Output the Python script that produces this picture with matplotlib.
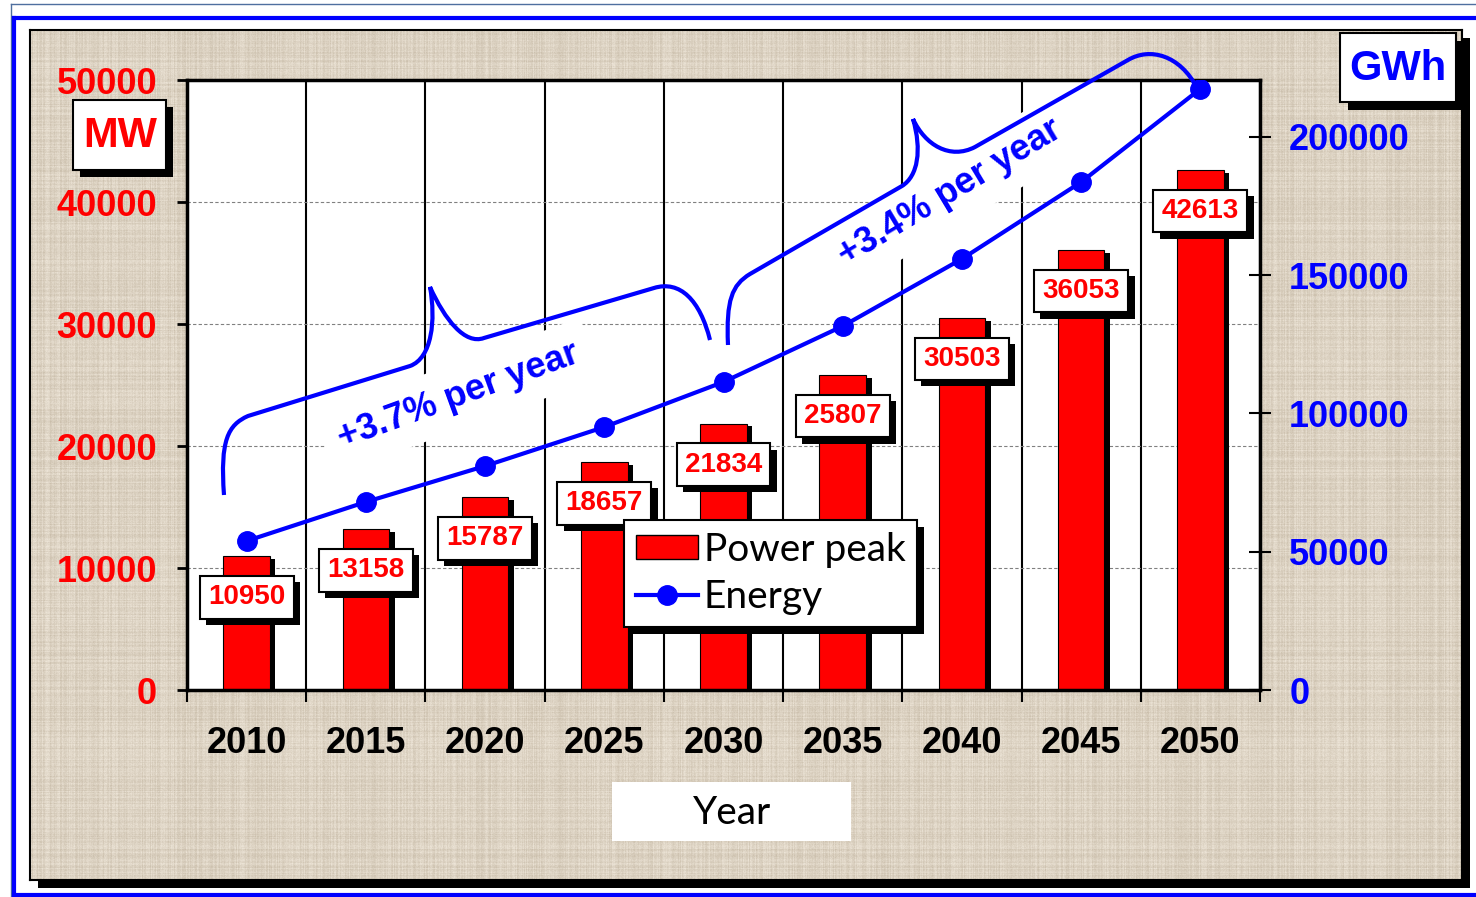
import numpy as np
import matplotlib
matplotlib.use("Agg")
import matplotlib.pyplot as plt
from matplotlib import patheffects as pe
from matplotlib.patches import Rectangle, PathPatch
from matplotlib.path import Path
from matplotlib.lines import Line2D
from matplotlib.transforms import Affine2D

# chart data
years = ["2010", "2015", "2020", "2025", "2030", "2035", "2040", "2045", "2050"]
power_peak_mw = [10950, 13158, 15787, 18657, 21834, 25807, 30503, 36053, 42613]
energy_gwh = [53900, 68000, 81000, 95100, 111400, 131600, 155900, 183700, 217400]
mw_ticks = [0, 10000, 20000, 30000, 40000, 50000]
gwh_ticks = [0, 50000, 100000, 150000, 200000]
growth_labels = ["+3.7% per year", "+3.4% per year"]

RED = "#FF0000"
BLUE = "#0000FF"
SANS = ["Liberation Sans", "DejaVu Sans"]
SOFT = ["Lato", "DejaVu Sans"]
plt.rcParams["font.family"] = SANS

W, H = 1476, 897
fig = plt.figure(figsize=(W / 100, H / 100), dpi=100)
fig.patch.set_facecolor("white")

# pixel coordinates (origin top-left) -> figure
px = Affine2D().scale(1 / W, -1 / H).translate(0, 1) + fig.transFigure


def shadow(dx, dy):
    return [pe.SimplePatchShadow(offset=(dx, dy), shadow_rgbFace="black", alpha=1.0), pe.Normal()]


# outer frame lines
for xs, ys, c, lw in [([11, 1476], [4, 4], "#4F6F9F", 1.0), ([11, 11], [4, 897], "#4F6F9F", 1.0),
                      ([14, 1476], [18, 18], BLUE, 3.0), ([14, 14], [18, 895], BLUE, 3.0),
                      ([14, 1476], [895, 895], BLUE, 3.0)]:
    fig.add_artist(Line2D(xs, ys, color=c, lw=lw, transform=px, zorder=-8))

# textured panel with shadow
fig.add_artist(Rectangle((38, 38), 1432, 850, transform=px, fc="black", ec="none", zorder=-7))
bg = fig.add_axes([30 / W, 1 - 880 / H, 1432 / W, 850 / H], zorder=-5)
cols = np.arange(1432, dtype=float)
rows = np.arange(850, dtype=float)
hash01 = lambda a: (np.sin(a * 12.9898 + 4.1414) * 43758.5453) % 1.0
col_n = hash01(cols)
row_n = hash01(rows + 977.0)
yy, xx = np.meshgrid(rows, cols, indexing="ij")
cell_n = hash01(xx * 0.731 + yy * 1.379)
v = 0.4 * col_n[None, :] + 0.35 * row_n[:, None] + 0.25 * cell_n
dark = np.array([202, 190, 171]) / 255
light = np.array([238, 230, 217]) / 255
tex = dark + (light - dark) * v[..., None]
bg.imshow(tex, aspect="auto", interpolation="nearest")
bg.set_xticks([])
bg.set_yticks([])
for s in bg.spines.values():
    s.set_linewidth(1.5)
    s.set_color("black")

# main axes
ax = fig.add_axes([187 / W, 1 - 690 / H, 1073 / W, 610 / H])
ax.set_facecolor("white")
ax.set_axisbelow(True)
x = np.arange(len(years))

bars = ax.bar(x, power_peak_mw, width=0.39, color=RED, edgecolor="black", linewidth=0.8, zorder=2)
for b in bars:
    b.set_path_effects(shadow(4, -2.0))

for xi, v in zip(x, power_peak_mw):
    t = ax.annotate(f"{v}", xy=(xi, v), xytext=(0, -29.5), textcoords="offset points",
                    ha="center", va="center", color=RED, fontsize=20, fontweight="bold",
                    bbox=dict(boxstyle="square,pad=0.3", fc="white", ec="black", lw=1.5), zorder=3)
    t.get_bbox_patch().set_path_effects(shadow(4.5, -4.5))

ax.set_xlim(-0.5, len(years) - 0.5)
ax.set_ylim(0, 50000)
ax.set_xticks(np.arange(-0.5, len(years), 1.0))
ax.set_xticklabels([])
ax.set_xticks(x, minor=True)
ax.set_xticklabels(years, minor=True)
ax.tick_params(axis="x", which="major", direction="out", length=8.5, width=1.5, color="black")
ax.tick_params(axis="x", which="minor", length=0, pad=26, labelsize=26)
ax.grid(axis="x", which="major", color="black", lw=1.5, ls="-")
ax.set_yticks(mw_ticks)
ax.grid(axis="y", color="#808080", lw=0.8, ls=(0, (3, 2)))
ax.tick_params(axis="y", direction="out", length=7.5, width=2, pad=14, labelsize=26, labelcolor=RED)
for lbl in ax.get_xticklabels(minor=True) + ax.get_yticklabels():
    lbl.set_fontweight("bold")
for s in ax.spines.values():
    s.set_linewidth(2.5)
    s.set_color("black")

# energy on right axis
ax2 = ax.twinx()
ax2.set_ylim(0, 220600)
ax2.plot(x, energy_gwh, color=BLUE, lw=3, marker="o", ms=14, zorder=4)
ax2.set_yticks(gwh_ticks)
ax2.tick_params(axis="y", direction="inout", length=16, width=1.5, pad=13, labelsize=26, labelcolor=BLUE)
for lbl in ax2.get_yticklabels():
    lbl.set_fontweight("bold")
for s in ax2.spines.values():
    s.set_visible(False)

# growth braces
M, L, C = Path.MOVETO, Path.LINETO, Path.CURVE4
brace1 = [((224, 495), M), ((220, 440), C), ((228, 425), C), ((248, 416), C),
          ((410, 366), L), ((432, 358), C), ((436, 320), C), ((430, 287), C),
          ((445, 320), C), ((465, 345), C), ((484, 338), C),
          ((654, 288), L), ((680, 280), C), ((700, 300), C), ((710, 340), C)]
brace2 = [((728, 345), M), ((726, 300), C), ((732, 285), C), ((750, 274), C),
          ((902, 186), L), ((918, 176), C), ((922, 150), C), ((913, 119), C),
          ((925, 145), C), ((950, 160), C), ((975, 147), C),
          ((1128, 60), L), ((1150, 47), C), ((1180, 55), C), ((1197, 88), C)]
for br in (brace1, brace2):
    path = Path([p for p, _ in br], [c for _, c in br])
    ax2.add_patch(PathPatch(path, fc="none", ec=BLUE, lw=3, transform=px, clip_on=False, zorder=5))

for label, (cx, cy), rot in zip(growth_labels, [(458, 396), (950, 193)], [20, 31]):
    ax.text(cx, cy, label, transform=px, rotation=rot, rotation_mode="anchor",
            ha="center", va="center", color=BLUE, fontsize=26, fontweight="bold",
            bbox=dict(boxstyle="square,pad=0.4", fc="white", ec="none"), zorder=1.5, clip_on=False)

# legend
handles = [Rectangle((0, 0), 1, 1, fc=RED, ec="black", lw=1),
           Line2D([], [], color=BLUE, lw=3, marker="o", ms=14)]
leg = ax2.legend(handles, ["Power peak", "Energy"], loc="upper left", bbox_to_anchor=(624, 520),
                 bbox_transform=px, prop={"family": SOFT, "size": 28}, frameon=True, fancybox=False,
                 framealpha=1, edgecolor="black", borderpad=0.3, labelspacing=0.3,
                 handlelength=1.6, handleheight=0.6, handletextpad=0.15, borderaxespad=0)
leg.get_frame().set_linewidth(1.5)
leg.get_frame().set_path_effects(shadow(5, -5))
leg.set_zorder(10)

# unit boxes and axis title
mw_box = Rectangle((73, 100), 93, 70, transform=px, fc="white", ec="black", lw=1.5, zorder=2)
mw_box.set_path_effects(shadow(5, -5))
fig.add_artist(mw_box)
fig.text(120, 136, "MW", transform=px, ha="center", va="center", color=RED,
         fontsize=30, fontweight="bold", zorder=3)

gwh_box = Rectangle((1340, 33), 116, 69, transform=px, fc="white", ec="black", lw=1.5, zorder=2)
gwh_box.set_path_effects(shadow(6, -6))
fig.add_artist(gwh_box)
fig.text(1398, 69, "GWh", transform=px, ha="center", va="center", color=BLUE,
         fontsize=30, fontweight="bold", zorder=3)

fig.add_artist(Rectangle((612, 782), 239, 59, transform=px, fc="white", ec="none", zorder=2))
fig.text(732, 813, "Year", transform=px, ha="center", va="center", color="black",
         fontsize=28, family=SOFT, zorder=3)

fig.savefig("out.png", dpi=100, facecolor="white")
